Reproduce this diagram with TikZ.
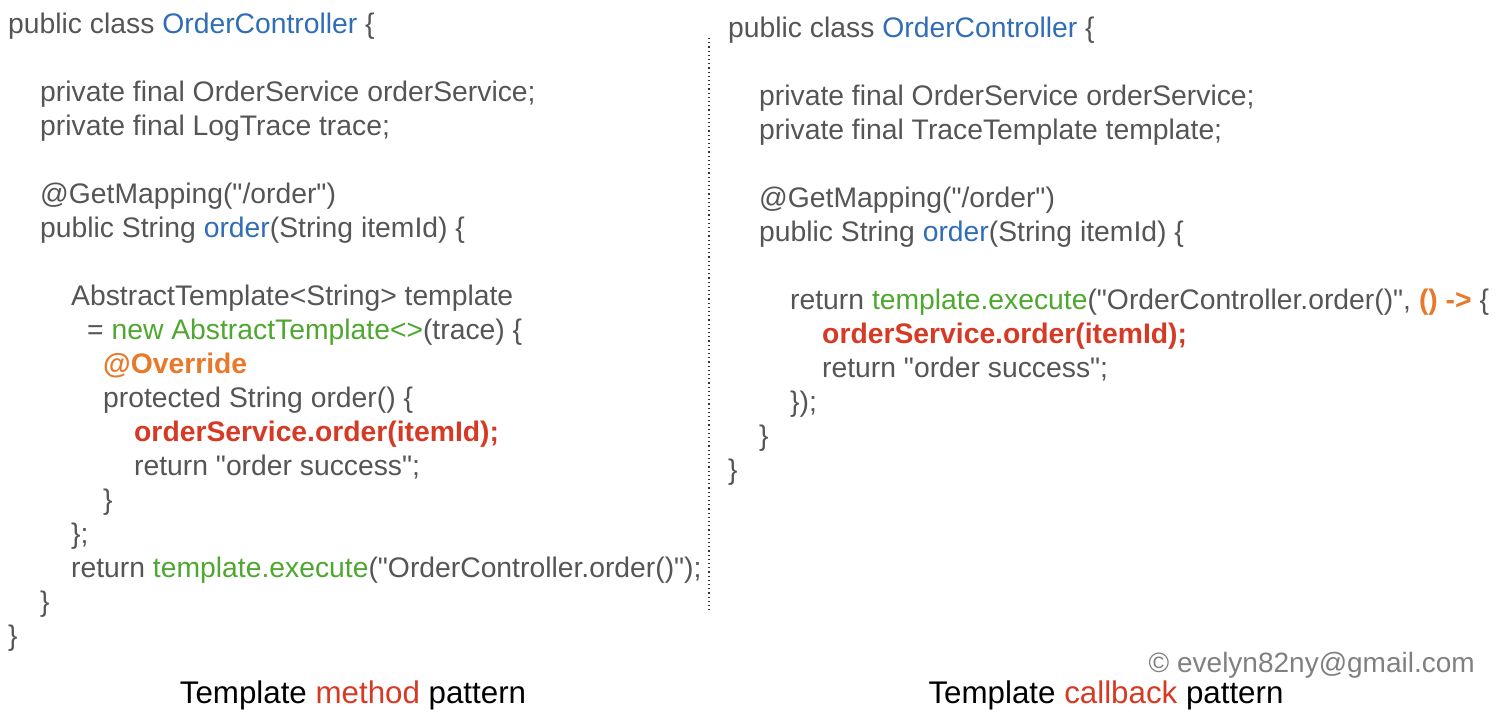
\documentclass[tikz,border=0pt]{standalone}
\usepackage{fontspec}
\setmainfont{Liberation Sans}[Ligatures=TeXOff]
\usepackage{tikz}

\definecolor{codegray}{HTML}{555555}
\definecolor{kwblue}{HTML}{2F6EB5}
\definecolor{tplgreen}{HTML}{4EA72E}
\definecolor{annorange}{HTML}{E8782A}
\definecolor{callred}{HTML}{D63A25}

\begin{document}
\begin{tikzpicture}[x=1pt, y=-1pt,
        code/.style={anchor=base west, inner sep=0pt, text=codegray,
            font=\fontsize{28.3}{34}\selectfont},
        caption/.style={anchor=base, inner sep=0pt, text=black,
            font=\fontsize{31.3}{36}\selectfont},
    ]
\newcommand{\kw}[1]{\textcolor{kwblue}{#1}}
\newcommand{\tpl}[1]{\textcolor{tplgreen}{#1}}
\newcommand{\ann}[1]{\textcolor{annorange}{\bfseries #1}}
\newcommand{\hot}[1]{\textcolor{callred}{\bfseries #1}}

\useasboundingbox (0,0) rectangle (1498,720);

%Template method pattern
\node[code] (lclass) at (8,33)  {public class \kw{OrderController} \{};
\node[code] (lsvc)   at (40,101) {private final OrderService orderService;};
\node[code] (ltrace) at (40,135) {private final LogTrace trace;};
\node[code] (lmap)   at (40,203) {@GetMapping("/order")};
\node[code] (lord)   at (40,237) {public String \kw{order}(String itemId) \{};
\node[code] (ltpl)   at (71,305) {AbstractTemplate<String> template};
\node[code] (lnew)   at (87,339) {= \tpl{new AbstractTemplate<>}(trace) \{};
\node[code] (lover)  at (103,373) {\ann{@Override}};
\node[code] (lprot)  at (103,407) {protected String order() \{};
\node[code] (lcall)  at (134,441) {\hot{orderService.order(itemId);}};
\node[code] (lret)   at (134,475) {return "order success";};
\node[code] (lend1)  at (103,509) {\}};
\node[code] (lend2)  at (71,543) {\};};
\node[code] (lexec)  at (71,577) {return \tpl{template.execute}("OrderController.order()");};
\node[code] (lend3)  at (40,611) {\}};
\node[code] (lend4)  at (8,645) {\}};

%Template callback pattern
\node[code] (rclass) at (728,37)  {public class \kw{OrderController} \{};
\node[code] (rsvc)   at (759,105) {private final OrderService orderService;};
\node[code] (rtpl)   at (759,139) {private final TraceTemplate template;};
\node[code] (rmap)   at (759,207) {@GetMapping("/order")};
\node[code] (rord)   at (759,241) {public String \kw{order}(String itemId) \{};
\node[code] (rexec)  at (790,309) {return \tpl{template.execute}("OrderController.order()", \ann{() ->} \{};
\node[code] (rcall)  at (822,343) {\hot{orderService.order(itemId);}};
\node[code] (rret)   at (822,377) {return "order success";};
\node[code] (rend1)  at (790,411) {\});};
\node[code] (rend2)  at (759,445) {\}};
\node[code] (rend3)  at (728,479) {\}};

%divider
\coordinate (divtop) at (709,38);
\coordinate (divbot) at (709,610);
\draw[black!80, line width=1.2pt, dash pattern=on 1.2pt off 3pt] (divtop) -- (divbot);

\node[caption] (lcap) at (353,703) {Template \textcolor{callred}{method} pattern};
\node[caption] (rcap) at (1106,703) {Template \textcolor{callred}{callback} pattern};
\node[anchor=base east, inner sep=0pt, text=black!50,
    font=\fontsize{28}{34}\selectfont] (copy) at (1475,672) {© evelyn82ny@gmail.com};

\end{tikzpicture}
\end{document}
